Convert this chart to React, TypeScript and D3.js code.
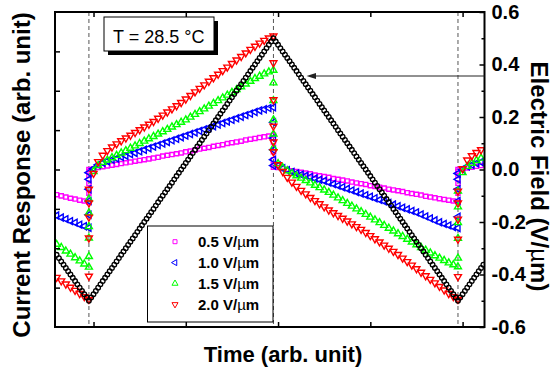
import React, { useRef, useEffect } from "react";
import * as d3 from "d3";

// electric field (V/um), one sample per time unit, first sample at fieldStart
const fieldStart = -16;
const fieldValues = [
  -0.325, -0.3375, -0.35, -0.3625, -0.375, -0.3875, -0.4, -0.4125, -0.425, -0.4375,
  -0.45, -0.4625, -0.475, -0.4875, -0.5,
  -0.4875, -0.475, -0.4625, -0.45, -0.4375, -0.425, -0.4125, -0.4, -0.3875, -0.375,
  -0.3625, -0.35, -0.3375, -0.325, -0.3125, -0.3, -0.2875, -0.275, -0.2625, -0.25,
  -0.2375, -0.225, -0.2125, -0.2, -0.1875, -0.175, -0.1625, -0.15, -0.1375, -0.125,
  -0.1125, -0.1, -0.0875, -0.075, -0.0625, -0.05, -0.0375, -0.025, -0.0125, 0,
  0.0125, 0.025, 0.0375, 0.05, 0.0625, 0.075, 0.0875, 0.1, 0.1125, 0.125,
  0.1375, 0.15, 0.1625, 0.175, 0.1875, 0.2, 0.2125, 0.225, 0.2375, 0.25,
  0.2625, 0.275, 0.2875, 0.3, 0.3125, 0.325, 0.3375, 0.35, 0.3625, 0.375,
  0.3875, 0.4, 0.4125, 0.425, 0.4375, 0.45, 0.4625, 0.475, 0.4875, 0.5,
  0.4875, 0.475, 0.4625, 0.45, 0.4375, 0.425, 0.4125, 0.4, 0.3875, 0.375,
  0.3625, 0.35, 0.3375, 0.325, 0.3125, 0.3, 0.2875, 0.275, 0.2625, 0.25,
  0.2375, 0.225, 0.2125, 0.2, 0.1875, 0.175, 0.1625, 0.15, 0.1375, 0.125,
  0.1125, 0.1, 0.0875, 0.075, 0.0625, 0.05, 0.0375, 0.025, 0.0125, 0,
  -0.0125, -0.025, -0.0375, -0.05, -0.0625, -0.075, -0.0875, -0.1, -0.1125, -0.125,
  -0.1375, -0.15, -0.1625, -0.175, -0.1875, -0.2, -0.2125, -0.225, -0.2375, -0.25,
  -0.2625, -0.275, -0.2875, -0.3, -0.3125, -0.325, -0.3375, -0.35, -0.3625, -0.375,
  -0.3875, -0.4, -0.4125, -0.425, -0.4375, -0.45, -0.4625, -0.475, -0.4875, -0.5,
  -0.4875, -0.475, -0.4625, -0.45, -0.4375, -0.425, -0.4125, -0.4, -0.3875, -0.375,
  -0.3625,
];

// current samples share these times; repeated times are the switching transients
const currentTimes = [
  -16, -14, -12, -10, -8, -6, -4, -2,
  -2, -2, -2, -2, -2,
  0, 2, 4, 6, 8, 10, 12, 14, 16, 18,
  20, 22, 24, 26, 28, 30, 32, 34, 36, 38,
  40, 42, 44, 46, 48, 50, 52, 54, 56, 58,
  60, 62, 64, 66, 68, 70, 72, 74, 76, 78,
  78, 78, 78, 78, 78,
  80, 82, 84, 86, 88, 90, 92, 94, 96, 98,
  100, 102, 104, 106, 108, 110, 112, 114, 116, 118,
  120, 122, 124, 126, 128, 130, 132, 134, 136, 138,
  140, 142, 144, 146, 148, 150, 152, 154, 156, 158,
  158, 158, 158, 158, 158,
  160, 162, 164, 166, 168,
];

const current05 = [
  -0.64, -0.67, -0.7, -0.73, -0.75, -0.78, -0.8, -0.83,
  -0.6, -0.35, -0.15, -0.05, 0.0,
  0.02, 0.05, 0.07, 0.09, 0.11, 0.13, 0.15, 0.17, 0.19, 0.21,
  0.23, 0.25, 0.27, 0.29, 0.31, 0.34, 0.36, 0.38, 0.4, 0.42,
  0.45, 0.47, 0.49, 0.52, 0.54, 0.56, 0.59, 0.61, 0.63, 0.66,
  0.68, 0.7, 0.72, 0.75, 0.77, 0.79, 0.81, 0.83, 0.85, 0.87,
  0.7, 0.45, 0.25, 0.12, 0.06,
  0.05, 0.02, 0.0, -0.03, -0.05, -0.07, -0.09, -0.11, -0.14, -0.16,
  -0.18, -0.2, -0.23, -0.25, -0.27, -0.29, -0.32, -0.34, -0.36, -0.38,
  -0.41, -0.43, -0.45, -0.47, -0.5, -0.52, -0.54, -0.56, -0.59, -0.61,
  -0.63, -0.65, -0.68, -0.7, -0.72, -0.74, -0.76, -0.78, -0.8, -0.82,
  -0.6, -0.35, -0.15, -0.05, 0.0,
  0.02, 0.04, 0.06, 0.08, 0.1,
];

const current10 = [
  -1.17, -1.22, -1.26, -1.31, -1.35, -1.4, -1.44, -1.48,
  -1.15, -0.8, -0.5, -0.25, -0.08,
  0.02, 0.12, 0.17, 0.21, 0.25, 0.28, 0.32, 0.35, 0.39, 0.42,
  0.46, 0.5, 0.54, 0.58, 0.62, 0.66, 0.7, 0.74, 0.78, 0.82,
  0.86, 0.9, 0.94, 0.98, 1.02, 1.06, 1.1, 1.14, 1.18, 1.22,
  1.26, 1.3, 1.34, 1.38, 1.42, 1.46, 1.5, 1.53, 1.56, 1.58,
  1.2, 0.8, 0.5, 0.25, 0.1,
  0.1, 0.03, -0.02, -0.06, -0.1, -0.13, -0.16, -0.19, -0.23, -0.26,
  -0.29, -0.33, -0.37, -0.41, -0.45, -0.49, -0.53, -0.57, -0.61, -0.65,
  -0.69, -0.73, -0.77, -0.81, -0.85, -0.89, -0.93, -0.97, -1.01, -1.05,
  -1.09, -1.14, -1.19, -1.24, -1.29, -1.34, -1.38, -1.42, -1.46, -1.49,
  -1.2, -0.8, -0.5, -0.25, -0.1,
  0.0, 0.08, 0.12, 0.16, 0.19,
];

const current15 = [
  -1.9, -1.98, -2.07, -2.15, -2.24, -2.32, -2.4, -2.48,
  -2.21, -1.74, -1.45, -1.1, -0.75,
  -0.05, 0.1, 0.18, 0.24, 0.3, 0.36, 0.42, 0.48, 0.54, 0.6,
  0.66, 0.72, 0.78, 0.84, 0.9, 0.96, 1.02, 1.08, 1.14, 1.2,
  1.26, 1.33, 1.4, 1.47, 1.54, 1.61, 1.68, 1.75, 1.82, 1.89,
  1.96, 2.03, 2.1, 2.17, 2.24, 2.31, 2.37, 2.43, 2.48, 2.52,
  2.2, 1.75, 1.26, 0.9, 0.55,
  0.15, 0.05, -0.03, -0.1, -0.16, -0.22, -0.28, -0.34, -0.4, -0.46,
  -0.52, -0.58, -0.65, -0.72, -0.79, -0.86, -0.93, -1.0, -1.07, -1.14,
  -1.21, -1.28, -1.35, -1.42, -1.49, -1.56, -1.63, -1.7, -1.77, -1.84,
  -1.91, -1.98, -2.05, -2.12, -2.19, -2.25, -2.31, -2.37, -2.42, -2.47,
  -2.25, -1.75, -1.35, -0.95, -0.55,
  -0.08, 0.08, 0.16, 0.23, 0.29,
];

const current20 = [
  -2.74, -2.83, -2.91, -2.99, -3.07, -3.15, -3.23, -3.3,
  -2.71, -1.74, -1.21, -0.85, -0.5,
  -0.1, 0.2, 0.36, 0.48, 0.57, 0.65, 0.73, 0.8, 0.87, 0.94,
  1.01, 1.08, 1.15, 1.22, 1.3, 1.38, 1.46, 1.54, 1.62, 1.7,
  1.79, 1.88, 1.97, 2.06, 2.15, 2.24, 2.33, 2.42, 2.51, 2.6,
  2.69, 2.78, 2.87, 2.96, 3.05, 3.13, 3.21, 3.28, 3.34, 3.39,
  2.71, 1.77, 1.1, 0.7, 0.45,
  0.12, -0.05, -0.2, -0.32, -0.43, -0.53, -0.62, -0.71, -0.79, -0.87,
  -0.95, -1.03, -1.1, -1.17, -1.24, -1.31, -1.38, -1.45, -1.52, -1.6,
  -1.68, -1.76, -1.84, -1.92, -2.0, -2.08, -2.16, -2.25, -2.34, -2.43,
  -2.52, -2.61, -2.7, -2.79, -2.88, -2.97, -3.06, -3.15, -3.23, -3.3,
  -2.72, -1.77, -1.26, -0.85, -0.55,
  0.02, 0.24, 0.35, 0.43, 0.5,
];

const fieldLabels = ["0.5", "1.0", "1.5", "2.0"];
const switchTimes = [-2, 78, 158];
const timeTicks = [0, 40, 80, 120, 160];
const currentTicks = [-3, -2, -1, 0, 1, 2, 3];
const fieldTicks = [-0.6, -0.4, -0.2, 0, 0.2, 0.4, 0.6];
const fieldMinorTicks = [-0.5, -0.3, -0.1, 0.1, 0.3, 0.5];

const FONT = "'Liberation Sans', Arial, Helvetica, sans-serif";

const series = [
  { values: current05, color: "#ff00ff", symbol: d3.symbolSquare, size: 17, rotate: 0 },
  { values: current10, color: "#0000ff", symbol: d3.symbolTriangle, size: 21, rotate: -90 },
  { values: current15, color: "#00ff00", symbol: d3.symbolTriangle, size: 21, rotate: 0 },
  { values: current20, color: "#ff0000", symbol: d3.symbolTriangle, size: 21, rotate: 180 },
];

const CurrentChart = () => {
  const ref = useRef<SVGSVGElement>(null);

  useEffect(() => {
    const svg = d3.select(ref.current);
    svg.selectAll("*").remove();

    const left = 55;
    const right = 484.5;
    const top = 12;
    const bottom = 327;

    const x = d3.scaleLinear().domain([-16.7, 169.5]).range([left, right]);
    const yCur = d3.scaleLinear().domain([-4, 4]).range([bottom, top]);
    const yField = d3.scaleLinear().domain([-0.6, 0.6]).range([bottom, top]);

    svg
      .append("defs")
      .append("clipPath")
      .attr("id", "plot-clip")
      .append("rect")
      .attr("x", left)
      .attr("y", top)
      .attr("width", right - left)
      .attr("height", bottom - top);

    // dashed lines at the field turning points
    svg
      .append("g")
      .selectAll("line")
      .data(switchTimes)
      .join("line")
      .attr("x1", (d) => x(d))
      .attr("x2", (d) => x(d))
      .attr("y1", top)
      .attr("y2", bottom)
      .attr("stroke", "#555")
      .attr("stroke-width", 1)
      .attr("stroke-dasharray", "4,3");

    const plot = svg.append("g").attr("clip-path", "url(#plot-clip)");

    series.forEach((s) => {
      const path = d3.symbol().type(s.symbol).size(s.size)();
      plot
        .append("g")
        .selectAll("path")
        .data(currentTimes.map((t, i) => ({ t, v: s.values[i] })))
        .join("path")
        .attr("d", path)
        .attr("transform", (d) => `translate(${x(d.t)},${yCur(d.v)}) rotate(${s.rotate})`)
        .attr("fill", "none")
        .attr("stroke", s.color)
        .attr("stroke-width", 1.4);
    });

    plot
      .append("g")
      .selectAll("circle")
      .data(fieldValues.map((v, i) => ({ t: fieldStart + i, v })))
      .join("circle")
      .attr("cx", (d) => x(d.t))
      .attr("cy", (d) => yField(d.v))
      .attr("r", 2.3)
      .attr("fill", "none")
      .attr("stroke", "#000")
      .attr("stroke-width", 1.3);

    // axes
    const styleAxis = (g) => {
      g.select(".domain").remove();
      g.selectAll(".tick line").attr("stroke", "#000").attr("stroke-width", 1.5);
      g.selectAll("text")
        .attr("font-family", FONT)
        .attr("font-weight", "bold")
        .attr("font-size", 20)
        .attr("fill", "#000");
    };

    svg
      .append("g")
      .attr("transform", `translate(0,${bottom})`)
      .call(d3.axisBottom(x).tickValues(timeTicks).tickSize(-5).tickFormat(() => ""))
      .call(styleAxis);
    svg
      .append("g")
      .attr("transform", `translate(0,${top})`)
      .call(d3.axisTop(x).tickValues(timeTicks).tickSize(-5).tickFormat(() => ""))
      .call(styleAxis);
    svg
      .append("g")
      .attr("transform", `translate(${left},0)`)
      .call(d3.axisLeft(yCur).tickValues(currentTicks).tickSize(-5).tickFormat(() => ""))
      .call(styleAxis);
    svg
      .append("g")
      .attr("transform", `translate(${right},0)`)
      .call(
        d3
          .axisRight(yField)
          .tickValues(fieldTicks)
          .tickSize(-5)
          .tickPadding(7)
          .tickFormat((d) => (+d).toFixed(1))
      )
      .call(styleAxis);
    svg
      .append("g")
      .attr("transform", `translate(${right},0)`)
      .call(d3.axisRight(yField).tickValues(fieldMinorTicks).tickSize(-3).tickFormat(() => ""))
      .call(styleAxis);

    svg
      .append("rect")
      .attr("x", left)
      .attr("y", top)
      .attr("width", right - left)
      .attr("height", bottom - top)
      .attr("fill", "none")
      .attr("stroke", "#000")
      .attr("stroke-width", 2);

    // axis titles
    svg
      .append("text")
      .attr("transform", "translate(30,175) rotate(-90)")
      .attr("text-anchor", "middle")
      .attr("font-family", FONT)
      .attr("font-weight", "bold")
      .attr("font-size", 24)
      .text("Current Response (arb. unit)");

    const rightTitle = svg
      .append("text")
      .attr("transform", "translate(531,176.5) rotate(90)")
      .attr("text-anchor", "middle")
      .attr("font-family", FONT)
      .attr("font-weight", "bold")
      .attr("font-size", 24);
    rightTitle.append("tspan").text("Electric Field (V/");
    rightTitle.append("tspan").attr("font-weight", "normal").text("\u00b5");
    rightTitle.append("tspan").text("m)");

    svg
      .append("text")
      .attr("x", 283)
      .attr("y", 362)
      .attr("text-anchor", "middle")
      .attr("font-family", FONT)
      .attr("font-weight", "bold")
      .attr("font-size", 22)
      .text("Time (arb. unit)");

    // legend
    const legend = svg.append("g");
    legend
      .append("rect")
      .attr("x", 147.5)
      .attr("y", 226)
      .attr("width", 125.5)
      .attr("height", 96)
      .attr("fill", "#fff")
      .attr("stroke", "#000")
      .attr("stroke-width", 1);

    series.forEach((s, i) => {
      const cy = 241.7 + i * 20.9;
      legend
        .append("path")
        .attr("d", d3.symbol().type(s.symbol).size(16)())
        .attr("transform", `translate(175,${cy}) rotate(${s.rotate})`)
        .attr("fill", "none")
        .attr("stroke", s.color)
        .attr("stroke-width", 1);
      const t = legend
        .append("text")
        .attr("x", 198)
        .attr("y", cy + 5.5)
        .attr("font-family", FONT)
        .attr("font-weight", "bold")
        .attr("font-size", 15);
      t.append("tspan").text(`${fieldLabels[i]} V/`);
      t.append("tspan").attr("font-weight", "normal").text("\u00b5");
      t.append("tspan").text("m");
    });

    // temperature box with shadow
    svg.append("rect").attr("x", 108).attr("y", 21).attr("width", 110).attr("height", 34).attr("fill", "#000");
    svg
      .append("rect")
      .attr("x", 104)
      .attr("y", 17)
      .attr("width", 110)
      .attr("height", 34)
      .attr("fill", "#fff")
      .attr("stroke", "#000")
      .attr("stroke-width", 1);
    svg
      .append("text")
      .attr("x", 113)
      .attr("y", 43)
      .attr("font-family", FONT)
      .attr("font-size", 18)
      .text("T = 28.5 \u00b0C");

    // arrow pointing to the field curve
    svg
      .append("line")
      .attr("x1", right)
      .attr("x2", 314)
      .attr("y1", 76)
      .attr("y2", 76)
      .attr("stroke", "#222")
      .attr("stroke-width", 1);
    svg
      .append("path")
      .attr("d", "M306.5,76 L316,73 L316,79 Z")
      .attr("fill", "#222");
  }, []);

  return (
    <svg
      ref={ref}
      width={552}
      height={375}
      style={{ position: "absolute", left: 0, top: 0, background: "#fff" }}
    />
  );
};

export default function App() {
  return <CurrentChart />;
}
